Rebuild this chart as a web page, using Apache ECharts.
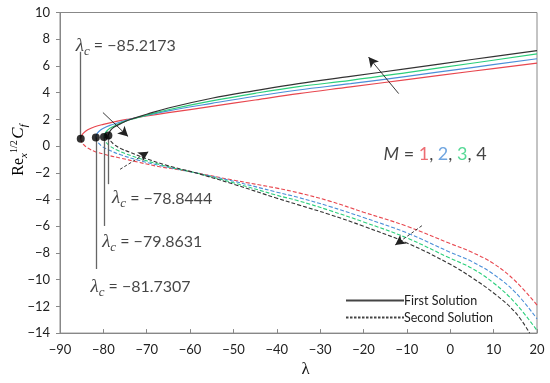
<!DOCTYPE html>
<html><head><meta charset="utf-8">
<script src="https://cdn.jsdelivr.net/npm/echarts@6/dist/echarts.min.js"></script>
<style>html,body{margin:0;padding:0;background:#fff}#c{width:550px;height:383px}</style>
</head><body><div id="c"></div>
<script>
// ---- axis ticks ----
const xMin = -90, xMax = 20, xStep = 10;
const yMin = -14, yMax = 10, yStep = 2;

// ---- M values and colours ----
const mValues = ['1', '2', '3', '4'];
const colors = ['#e8474f', '#4b8fd8', '#2ccf7c', '#333333'];

// critical points
const lambdaC = [-85.2173, -81.7307, -79.8631, -78.8444];
const cfC = [0.55, 0.65, 0.68, 0.80];
const lambdaCText = ['−85.2173', '−81.7307', '−79.8631', '−78.8444'];

// ---- first solution (upper branches) [lambda, Cf] ----
const first1 = [[-85.2173,0.55],[-85.05,0.75],[-84.6,0.97],[-83.6,1.22],[-82,1.45],[-80,1.63],[-77,1.85],[-74,2.03],[-70,2.25],[-65,2.5],[-55,2.97],[-45,3.45],[-35,3.93],[-23,4.43],[-10,4.98],[5,5.6],[20,6.21]];
const first2 = [[-81.7307,0.65],[-81.58,0.85],[-81.1,1.07],[-80.2,1.3],[-78.5,1.55],[-76,1.8],[-74,2.0],[-70,2.3],[-65,2.64],[-55,3.2],[-45,3.73],[-35,4.2],[-23,4.67],[-10,5.22],[5,5.88],[20,6.54]];
const first3 = [[-79.8631,0.68],[-79.72,0.88],[-79.3,1.1],[-78.5,1.33],[-77,1.58],[-75,1.85],[-73,2.05],[-70,2.32],[-65,2.72],[-55,3.38],[-45,3.95],[-35,4.45],[-23,4.92],[-10,5.5],[5,6.2],[20,6.9]];
const first4 = [[-78.8444,0.8],[-78.7,0.98],[-78.3,1.2],[-77.5,1.42],[-76,1.68],[-74,1.97],[-70,2.38],[-65,2.85],[-55,3.58],[-45,4.15],[-35,4.68],[-23,5.22],[-10,5.8],[5,6.48],[20,7.15]];

// ---- second solution (lower branches) [lambda, Cf] ----
const second1 = [[-85.2173,0.55],[-85.05,0.35],[-84.6,0.12],[-83.6,-0.15],[-82,-0.4],[-79,-0.68],[-76,-0.9],[-72,-1.2],[-67,-1.55],[-63,-1.75],[-59,-1.98],[-50,-2.55],[-40,-3.15],[-35,-3.5],[-28,-4.1],[-20,-4.95],[-10,-6.0],[0,-7.3],[5,-7.95],[10,-8.8],[15,-10.1],[20,-11.9]];
const second2 = [[-81.7307,0.65],[-81.58,0.45],[-81.1,0.22],[-80.2,-0.05],[-78.5,-0.33],[-76,-0.65],[-72,-1.05],[-67,-1.45],[-63,-1.72],[-59,-1.98],[-50,-2.63],[-40,-3.45],[-35,-3.85],[-28,-4.5],[-20,-5.35],[-10,-6.5],[0,-7.95],[5,-8.65],[10,-9.6],[15,-10.95],[20,-12.93]];
const second3 = [[-79.8631,0.68],[-79.72,0.48],[-79.3,0.25],[-78.5,0.0],[-77,-0.28],[-75,-0.55],[-71,-1.0],[-67,-1.38],[-63,-1.7],[-59,-1.98],[-50,-2.75],[-40,-3.68],[-35,-4.1],[-28,-4.8],[-20,-5.68],[-10,-6.88],[0,-8.4],[5,-9.15],[10,-10.25],[15,-11.75],[20,-13.8]];
const second4 = [[-78.8444,0.8],[-78.7,0.6],[-78.3,0.38],[-77.5,0.12],[-76,-0.18],[-74,-0.45],[-70,-0.95],[-65,-1.48],[-59,-1.98],[-50,-2.85],[-40,-3.9],[-35,-4.4],[-28,-5.1],[-20,-6.0],[-10,-7.25],[0,-8.85],[5,-9.85],[10,-11.0],[15,-12.45],[18.3,-14]];

// ---- annotation anchors (data coords) ----
const leaderEndCf = [7.06, -9.2, -5.98, -2.85];
const labelAnchor = [[-86.5, 7.5], [-83.1, -10.55], [-80.4, -7.2], [-78.1, -3.92]];
const arrowsSolid = [[[-80.1, 2.51], [-74.3, 0.72]], [[-11.9, 3.93], [-18.85, 6.66]]];
const arrowsDashed = [[[-76.15, -1.74], [-69.6, -0.42]], [[-6.54, -5.96], [-12.7, -7.4]]];
const mLabelAnchor = [-15.5, -0.62];

const firstSets = [first1, first2, first3, first4];
const secondSets = [second1, second2, second3, second4];
const numFont = 'Lato';
const serif = 'Liberation Serif';
const clear = 'rgba(0,0,0,0)';
const ink = '#151515';

const series = [];
for (let i = 0; i < 4; i++) {
  series.push({
    type: 'line', name: 'M' + mValues[i] + ' first', data: firstSets[i], smooth: 0.4,
    showSymbol: false, symbol: 'none', silent: true, z: 3,
    lineStyle: { color: colors[i], width: 1.2, type: 'solid' }
  });
  series.push({
    type: 'line', name: 'M' + mValues[i] + ' second', data: secondSets[i], smooth: 0.4,
    showSymbol: false, symbol: 'none', silent: true, z: 3,
    lineStyle: { color: colors[i], width: 1.1, type: [4, 2] }
  });
}
// legend dummy series
series.push({ type: 'line', name: 'First Solution', data: [], symbol: 'none', lineStyle: { color: '#444', width: 1, type: 'solid' }, itemStyle: { color: clear, borderColor: clear } });
series.push({ type: 'line', name: 'Second Solution', data: [], symbol: 'none', lineStyle: { color: '#444', width: 1, type: [2.5, 1.5] }, itemStyle: { color: clear, borderColor: clear } });

// leader lines + arrows
const leaderLines = lambdaC.map((l, i) => [{ coord: [l, cfC[i]] }, { coord: [l, leaderEndCf[i]] }]);
series.push({
  type: 'line', name: 'leaders', data: [], silent: true,
  markLine: {
    silent: true, symbol: ['none', 'none'], animation: false,
    lineStyle: { color: '#666', width: 1.3, type: 'solid' }, label: { show: false },
    data: leaderLines
  }
});
series.push({
  type: 'line', name: 'arrowsSolid', data: [], silent: true,
  markLine: {
    silent: true, symbol: ['none', 'arrow'], symbolSize: [8, 10], animation: false,
    lineStyle: { color: '#222', width: 0.9, type: 'solid' }, label: { show: false },
    data: arrowsSolid.map(a => [{ coord: a[0] }, { coord: a[1] }])
  }
});
series.push({
  type: 'line', name: 'arrowsDashed', data: [], silent: true,
  markLine: {
    silent: true, symbol: ['none', 'arrow'], symbolSize: [8, 10], animation: false,
    lineStyle: { color: '#222', width: 0.9, type: [3, 2] }, label: { show: false },
    data: arrowsDashed.map(a => [{ coord: a[0] }, { coord: a[1] }])
  }
});
// critical points
series.push({
  type: 'scatter', name: 'critical', z: 5, symbolSize: 8, silent: true,
  itemStyle: { color: '#000' },
  data: lambdaC.map((l, i) => [l, cfC[i]])
});
// lambda_c labels
const lcRich = {
  l: { fontFamily: serif, fontStyle: 'italic', fontSize: 19, color: ink },
  c: { fontFamily: serif, fontStyle: 'italic', fontSize: 13, color: ink, padding: [11, 0, 0, 0] },
  t: { fontFamily: numFont, fontSize: 16, color: ink }
};
series.push({
  type: 'scatter', name: 'lcLabels', z: 6, symbolSize: 1, silent: true,
  itemStyle: { color: clear },
  data: labelAnchor.map((p, i) => ({ value: p, txt: lambdaCText[i] })),
  label: {
    show: true, position: 'right', distance: 0, color: ink,
    formatter: p => '{l|λ}{c|c}{t| = ' + p.data.txt + '}',
    rich: lcRich
  }
});
// M label
series.push({
  type: 'scatter', name: 'mLabel', z: 6, symbolSize: 1, silent: true,
  itemStyle: { color: clear },
  data: [mLabelAnchor],
  label: {
    show: true, position: 'right', distance: 0, color: ink,
    formatter: () => '{m|M}{t| = }{r|' + mValues[0] + '}{t|, }{b|' + mValues[1] + '}{t|, }{g|' + mValues[2] + '}{t|, ' + mValues[3] + '}',
    rich: {
      m: { fontFamily: numFont, fontStyle: 'italic', fontSize: 18, color: ink },
      t: { fontFamily: numFont, fontSize: 18, color: ink },
      r: { fontFamily: numFont, fontSize: 18, color: colors[0] },
      b: { fontFamily: numFont, fontSize: 18, color: colors[1] },
      g: { fontFamily: numFont, fontSize: 18, color: colors[2] }
    }
  }
});

const chart = echarts.init(document.getElementById('c'), null, { renderer: 'canvas' });
chart.setOption({
  animation: false,
  backgroundColor: '#fff',
  grid: { left: 60, right: 13, top: 12.5, bottom: 47.5, show: true, borderColor: '#888', borderWidth: 1, backgroundColor: 'transparent' },
  xAxis: {
    type: 'value', min: xMin, max: xMax, interval: xStep,
    name: 'λ', nameLocation: 'middle', nameGap: 27,
    nameTextStyle: { fontFamily: serif, fontSize: 17, color: ink, padding: [0, 0, 0, 14] },
    axisLine: { onZero: false, lineStyle: { color: '#888' } },
    axisTick: { inside: true, length: 4, lineStyle: { color: '#888' } },
    axisLabel: { margin: 10, fontFamily: numFont, fontSize: 13, color: '#222', formatter: v => String(v).replace('-', '−') },
    splitLine: { show: false }
  },
  yAxis: {
    type: 'value', min: yMin, max: yMax, interval: yStep,
    axisLine: { onZero: false, lineStyle: { color: '#888' } },
    axisTick: { inside: false, length: 4, lineStyle: { color: '#888' } },
    axisLabel: { margin: 10, fontFamily: numFont, fontSize: 13, color: '#222', formatter: v => String(v).replace('-', '−') },
    splitLine: { show: false }
  },
  legend: {
    data: ['First Solution', 'Second Solution'],
    orient: 'vertical', left: 340, top: 289, itemWidth: 58, itemHeight: 8, itemGap: 4,
    itemStyle: { color: clear, borderColor: clear, opacity: 0 },
    lineStyle: { opacity: 1 },
    textStyle: { fontFamily: numFont, fontSize: 12.5, color: '#222', padding: [0, 0, 0, -5] },
    selectedMode: false
  },
  graphic: [{
    type: 'text', x: 19, y: 150, rotation: Math.PI / 2,
    style: {
      text: '{re|Re}{x|x}{h|1/2}{sp| }{c|C}{f|f}',
      align: 'center', verticalAlign: 'middle',
      rich: {
        re: { fontFamily: serif, fontSize: 16, color: ink },
        x: { fontFamily: serif, fontStyle: 'italic', fontSize: 11, color: ink, padding: [10, 0, 0, 0] },
        h: { fontFamily: serif, fontSize: 10, color: ink, padding: [0, 0, 10, 0] },
        sp: { fontSize: 6 },
        c: { fontFamily: serif, fontStyle: 'italic', fontSize: 17, color: ink },
        f: { fontFamily: serif, fontStyle: 'italic', fontSize: 11, color: ink, padding: [10, 0, 0, 0] }
      }
    }
  }],
  series: series
});
</script>
</body></html>
